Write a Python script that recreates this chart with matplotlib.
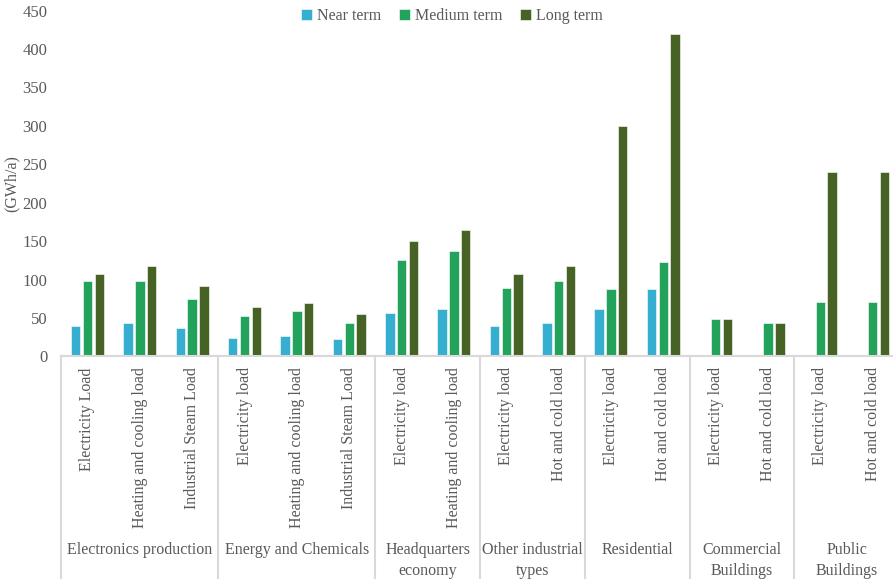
import numpy as np
import matplotlib
matplotlib.use('Agg')
import matplotlib.pyplot as plt

plt.rcParams['font.family'] = ['Liberation Serif', 'DejaVu Serif']

# groups and their sub categories
groups = ['Electronics production', 'Energy and Chemicals', 'Headquarters\neconomy',
          'Other industrial\ntypes', 'Residential', 'Commercial\nBuildings', 'Public\nBuildings']
subcats = [['Electricity Load', 'Heating and cooling load', 'Industrial Steam Load'],
           ['Electricity load', 'Heating and cooling load', 'Industrial Steam Load'],
           ['Electricity load', 'Heating and cooling load'],
           ['Electricity load', 'Hot and cold load'],
           ['Electricity load', 'Hot and cold load'],
           ['Electricity load', 'Hot and cold load'],
           ['Electricity load', 'Hot and cold load']]

near_term = [40, 44, 37, 24, 26, 22, 56, 62, 40, 44, 62, 87, 0, 0, 0, 0]
medium_term = [98, 98, 74, 53, 59, 44, 125, 137, 89, 98, 88, 123, 48, 43, 71, 71]
long_term = [107, 118, 92, 64, 70, 55, 150, 165, 107, 118, 300, 420, 48, 43, 240, 240]

series = [('Near term', near_term, '#36AED0'),
          ('Medium term', medium_term, '#22A25A'),
          ('Long term', long_term, '#466224')]

GRIS = '#595959'
LINEA = '#D9D9D9'
FS = 11.5

fig = plt.figure(figsize=(8.93, 5.79), dpi=100)
ax = fig.add_axes([61.3 / 893, 1 - 356.3 / 579, 837.6 / 893, 345.6 / 579])

labels = [s for sub in subcats for s in sub]
x = np.arange(len(labels))
for k, (nombre, vals, col) in enumerate(series):
    ax.bar(x + (k - 1) * 0.225, vals, width=0.18, color=col, label=nombre,
           edgecolor='#ffffff', linewidth=0.4, zorder=2)

ax.set_xlim(-0.5, len(labels) - 0.5)
ax.set_ylim(0, 450)
ax.set_yticks(np.arange(0, 451, 50))
ax.tick_params(axis='y', length=0, pad=10, labelsize=FS + 0.5, labelcolor=GRIS)
ax.set_xticks([])
for lado in ['left', 'right', 'top']:
    ax.spines[lado].set_visible(False)
ax.spines['bottom'].set_color(LINEA)
ax.spines['bottom'].set_linewidth(1.5)
ax.set_ylabel('(GWh/a)', fontsize=FS, color=GRIS, va='center')
ax.yaxis.set_label_coords((12 - 61.3) / 837.6, 0.5)

# multi level category axis
trans = ax.get_xaxis_transform()
for i, lab in enumerate(labels):
    ax.text(i, -11 / 345.6, lab, transform=trans, rotation=90, ha='center', va='top',
            fontsize=FS, color=GRIS)

inicio = 0
for g, sub in zip(groups, subcats):
    ax.plot([inicio - 0.5, inicio - 0.5], [0, -0.66], transform=trans, color=LINEA,
            lw=1.5, clip_on=False)
    centro = inicio + (len(sub) - 1) / 2
    ax.text(centro, -(542 - 356.3) / 345.6, g, transform=trans, ha='center', va='top',
            fontsize=FS, color=GRIS, linespacing=1.4)
    inicio += len(sub)
ax.plot([inicio - 0.5, inicio - 0.5], [0, -0.66], transform=trans, color=LINEA,
        lw=1.5, clip_on=False)

fig.legend(loc='center', bbox_to_anchor=(452 / 893, 1 - 16 / 579), ncol=3, frameon=False,
           fontsize=FS, handlelength=0.7, handleheight=0.7, handletextpad=0.3,
           columnspacing=1.1, labelcolor=GRIS)

fig.savefig('out.png', dpi=100)
